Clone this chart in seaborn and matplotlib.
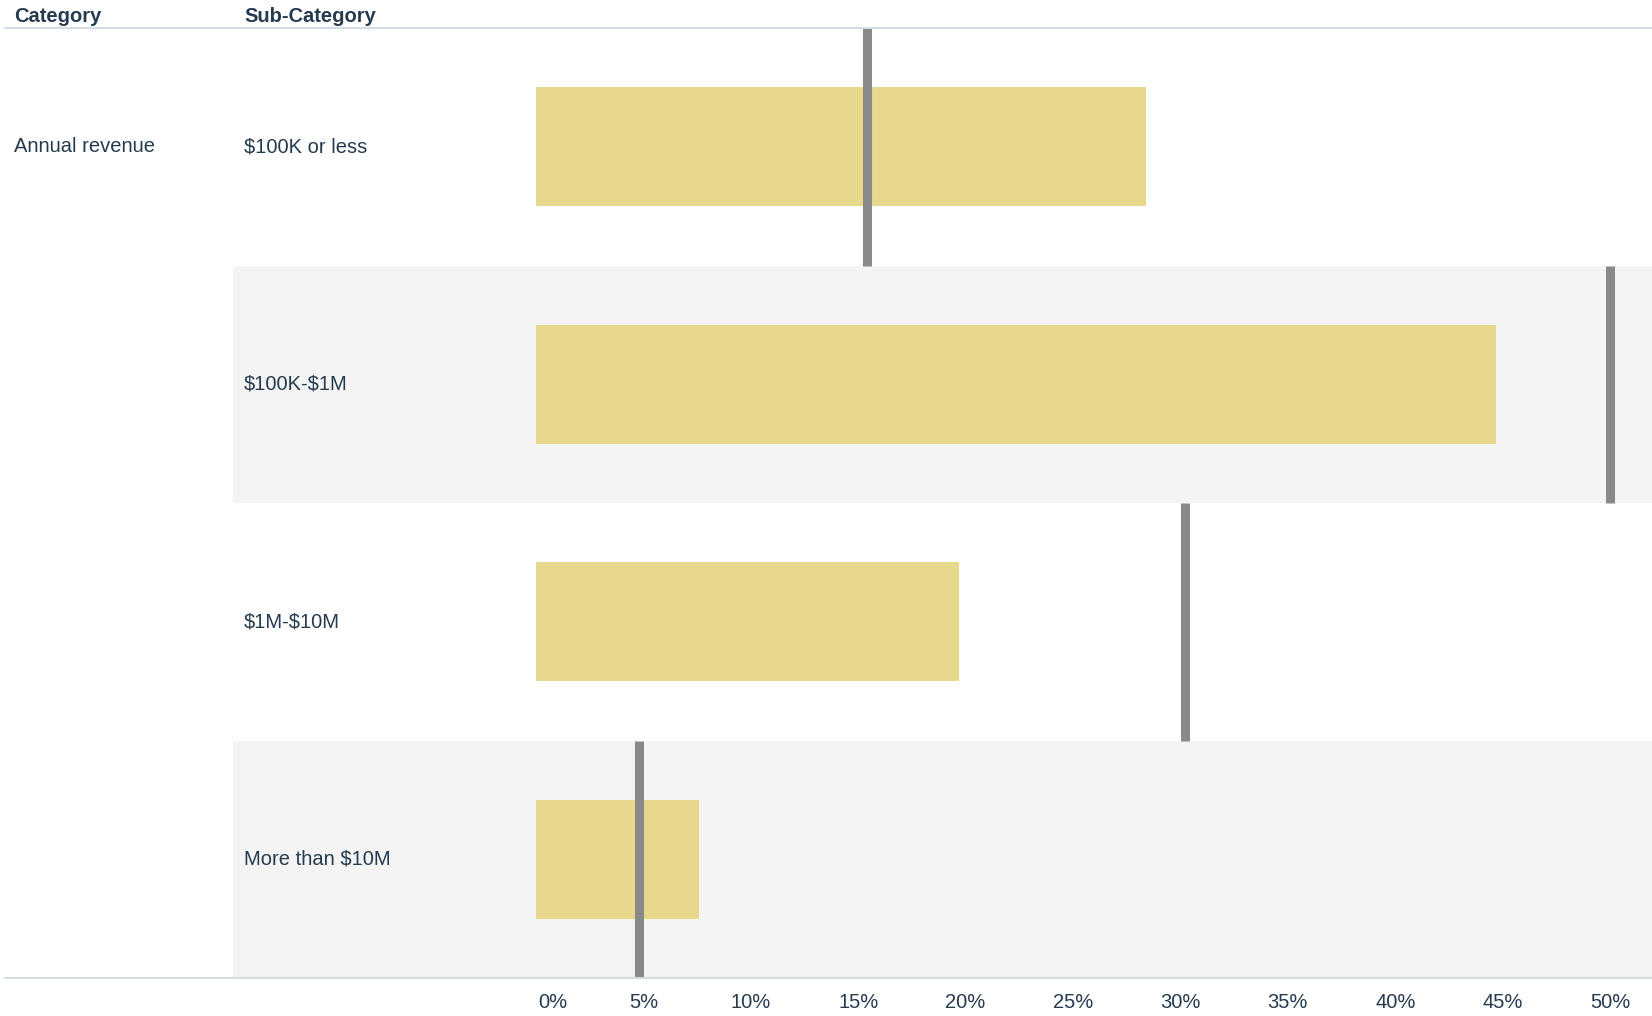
import pandas as pd
import seaborn as sns
import matplotlib.pyplot as plt
from matplotlib.transforms import blended_transform_factory

# data
category = 'Annual revenue'
sub_categories = ['$100K or less', '$100K-$1M', '$1M-$10M', 'More than $10M']
values = [28.4, 44.7, 19.7, 7.6]
targets = [15.4, 50.0, 30.2, 4.8]
tick_values = [0, 5, 10, 15, 20, 25, 30, 35, 40, 45, 50]
tick_labels = [f'{v}%' for v in tick_values]

df = pd.DataFrame({'sub': sub_categories, 'value': values, 'target': targets})

sns.set_style('white')
plt.rcParams['font.family'] = ['Liberation Sans', 'DejaVu Sans']
plt.rcParams['text.parse_math'] = False
text_col = '#263b4f'
line_col = '#d3dde5'
fs = 14.5

fig = plt.figure(figsize=(16.52, 10.16), dpi=100)
ax = fig.add_axes([0, 0.0374, 1, 0.935])

# x scale: 0% at 536 px, 50% at 1610 px of 1652
px_per = (1610 - 536) / 50
ax.set_xlim(-536 / px_per, (1652 - 536) / px_per)

# alternating row bands
for i in range(len(sub_categories)):
    if i % 2 == 1:
        ax.axhspan(i - 0.5, i + 0.5, xmin=233 / 1652, xmax=1, color='#f4f4f4', lw=0, zorder=0)

sns.barplot(data=df, x='value', y='sub', orient='h', color='#e8d88b', saturation=1,
            width=0.5, linewidth=0, ax=ax, zorder=2)

ax.vlines(df['target'], [i - 0.5 for i in range(len(df))], [i + 0.5 for i in range(len(df))],
          colors='#898989', linewidth=6.5, zorder=3)

ax.set_ylim(len(sub_categories) - 0.5, -0.5)
ax.set_xlabel('')
ax.set_ylabel('')
ax.set_yticks([])
ax.set_xticks([])
for s in ax.spines.values():
    s.set_visible(False)

trans = ax.get_yaxis_transform()
xfig = lambda px: px / 1652
# row labels
for i, lab in enumerate(sub_categories):
    ax.text(xfig(244), i, lab, transform=trans, ha='left', va='center', fontsize=fs, color=text_col)
ax.text(xfig(14), 0, category, transform=trans, ha='left', va='center', fontsize=fs, color=text_col)

# header and lines
fig.text(xfig(14), 1 - 17 / 1016, 'Category', ha='left', va='center', fontsize=fs,
         fontweight='bold', color=text_col)
fig.text(xfig(244), 1 - 17 / 1016, 'Sub-Category', ha='left', va='center', fontsize=fs,
         fontweight='bold', color=text_col)
fig.add_artist(plt.Line2D([5 / 1652, 1], [1 - 28 / 1016] * 2, color=line_col, lw=1.5))
fig.add_artist(plt.Line2D([5 / 1652, 1], [1 - 978 / 1016] * 2, color=line_col, lw=1.5))

# x tick labels
tick_trans = blended_transform_factory(ax.transData, fig.transFigure)
for v, lab in zip(tick_values, tick_labels):
    xpos = v + (0.8 if v == 0 else 0)
    ax.text(xpos, 1 - 1002 / 1016, lab, transform=tick_trans,
            ha='center', va='center', fontsize=fs, color=text_col)

fig.savefig('out.png', dpi=100)
